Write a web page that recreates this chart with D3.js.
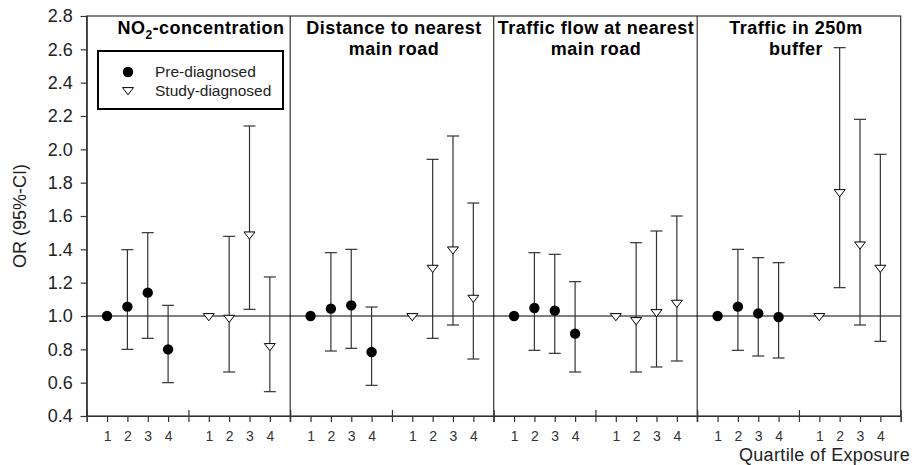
<!DOCTYPE html>
<html>
<head>
<meta charset="utf-8">
<script src="https://cdn.jsdelivr.net/npm/d3@7/dist/d3.min.js"></script>
<style>
  html, body { margin: 0; padding: 0; background: #fff; }
  svg { display: block; font-family: Arial, "Liberation Sans", sans-serif; }
</style>
</head>
<body>
<svg id="chart" width="915" height="465"></svg>
<script>
// ---- Data ----
const panelTitles = [
  ["NO2-concentration"],
  ["Distance to nearest", "main road"],
  ["Traffic flow at nearest", "main road"],
  ["Traffic in 250m", "buffer"]
];
const quartiles = ["1", "2", "3", "4"];
const groups = ["Pre-diagnosed", "Study-diagnosed"];

// Pre-diagnosed: OR, lower CI, upper CI (Q1 = reference)
const preOR = [
  [1.00, 1.056, 1.14, 0.80],
  [1.00, 1.044, 1.064, 0.784],
  [1.00, 1.048, 1.032, 0.894],
  [1.00, 1.056, 1.016, 0.994]
];
const preLo = [
  [null, 0.80, 0.866, 0.60],
  [null, 0.79, 0.806, 0.584],
  [null, 0.794, 0.776, 0.664],
  [null, 0.794, 0.76, 0.748]
];
const preHi = [
  [null, 1.398, 1.50, 1.064],
  [null, 1.38, 1.40, 1.054],
  [null, 1.38, 1.37, 1.206],
  [null, 1.40, 1.35, 1.32]
];
// Study-diagnosed
const studyOR = [
  [1.00, 0.99, 1.49, 0.82],
  [1.00, 1.29, 1.40, 1.11],
  [1.00, 0.976, 1.024, 1.08],
  [1.00, 1.744, 1.43, 1.29]
];
const studyLo = [
  [null, 0.664, 1.04, 0.546],
  [null, 0.866, 0.946, 0.742],
  [null, 0.664, 0.694, 0.73],
  [null, 1.17, 0.946, 0.848]
];
const studyHi = [
  [null, 1.478, 2.14, 1.234],
  [null, 1.94, 2.08, 1.678],
  [null, 1.44, 1.51, 1.60],
  [null, 2.61, 2.18, 1.97]
];
const yTicks = [0.4, 0.6, 0.8, 1.0, 1.2, 1.4, 1.6, 1.8, 2.0, 2.2, 2.4, 2.6, 2.8];

// ---- Layout ----
const svg = d3.select("#chart");
const L = 86.7, R = 900.7, T = 16, B = 416;
const x = d3.scaleLinear().domain([0, 40]).range([L, R]);
const y = d3.scaleLinear().domain([0.4, 2.8]).range([B, T]);
const ink = "#222";

// plot frame
svg.append("rect").attr("x", L).attr("y", T).attr("width", R - L).attr("height", B - T)
  .attr("fill", "none").attr("stroke", "#333").attr("stroke-width", 1.2);

// panel dividers
[10, 20, 30].forEach(v => {
  svg.append("line").attr("x1", x(v)).attr("x2", x(v)).attr("y1", T).attr("y2", B + 6)
    .attr("stroke", "#333").attr("stroke-width", 1.2);
});

// y axis
const yAxis = svg.append("g").attr("transform", `translate(${L},0)`)
  .call(d3.axisLeft(y).tickValues(yTicks).tickFormat(d3.format(".1f")).tickSize(6).tickPadding(8));
yAxis.select(".domain").attr("stroke", "#333").attr("stroke-width", 1.2);
yAxis.selectAll(".tick line").attr("stroke", "#333").attr("stroke-width", 1.2);
yAxis.selectAll("text").attr("font-size", 18).attr("fill", ink)
  .attr("font-family", "Arial, 'Liberation Sans', sans-serif");

// x axis
const xTickVals = d3.range(0, 41);
const xAxis = svg.append("g").attr("transform", `translate(0,${B})`)
  .call(d3.axisBottom(x).tickValues(xTickVals)
    .tickFormat(d => d % 5 === 0 ? "" : quartiles[(d % 5) - 1])
    .tickSize(6).tickPadding(9));
xAxis.select(".domain").attr("stroke", "#333").attr("stroke-width", 1.2);
xAxis.selectAll(".tick line").attr("stroke", "#333").attr("stroke-width", 1.2)
  .attr("y1", d => d % 5 === 0 ? -6 : 0);
xAxis.selectAll("text").attr("font-size", 14).attr("fill", "#333")
  .attr("font-family", "Arial, 'Liberation Sans', sans-serif");

// reference line at OR = 1
svg.append("line").attr("x1", L).attr("x2", R).attr("y1", y(1)).attr("y2", y(1))
  .attr("stroke", "#000").attr("stroke-width", 1.2);

// panel titles
const titleX = [201, 394, 596, 796];
panelTitles.forEach((lines, p) => {
  lines.forEach((ln, i) => {
    const t = svg.append("text").attr("x", titleX[p]).attr("y", 34 + i * 21)
      .attr("text-anchor", "middle").attr("font-size", 18).attr("font-weight", "bold")
      .attr("letter-spacing", 0.5).attr("fill", "#000");
    if (ln.startsWith("NO2")) {
      t.append("tspan").text("NO");
      t.append("tspan").text("2").attr("font-size", 12).attr("dy", 5);
      t.append("tspan").text(ln.slice(3)).attr("dy", -5);
    } else {
      t.text(ln);
    }
  });
});

// markers
const triPath = "M-5.5,-2.4L5.5,-2.4L0,4.8Z";
function drawGroup(ors, los, his, offset, isStudy) {
  ors.forEach((row, p) => {
    row.forEach((v, q) => {
      const cx = x(p * 10 + offset + q);
      const lo = los[p][q], hi = his[p][q];
      if (lo !== null && hi !== null) {
        svg.append("line").attr("x1", cx).attr("x2", cx).attr("y1", y(lo)).attr("y2", y(hi))
          .attr("stroke", "#333").attr("stroke-width", 1.2);
        [lo, hi].forEach(c => {
          svg.append("line").attr("x1", cx - 6).attr("x2", cx + 6).attr("y1", y(c)).attr("y2", y(c))
            .attr("stroke", "#333").attr("stroke-width", 1.2);
        });
      }
      if (isStudy) {
        svg.append("path").attr("d", triPath).attr("transform", `translate(${cx},${y(v)})`)
          .attr("fill", "#fff").attr("stroke", "#000").attr("stroke-width", 1);
      } else {
        svg.append("circle").attr("cx", cx).attr("cy", y(v)).attr("r", 5.2).attr("fill", "#000");
      }
    });
  });
}
drawGroup(preOR, preLo, preHi, 1, false);
drawGroup(studyOR, studyLo, studyHi, 6, true);

// legend
svg.append("rect").attr("x", 98).attr("y", 51).attr("width", 185).attr("height", 58)
  .attr("fill", "#fff").attr("stroke", "#000").attr("stroke-width", 2);
svg.append("circle").attr("cx", 128).attr("cy", 72).attr("r", 5.2).attr("fill", "#000");
svg.append("path").attr("d", triPath).attr("transform", "translate(128,90)")
  .attr("fill", "#fff").attr("stroke", "#000").attr("stroke-width", 1);
groups.forEach((g, i) => {
  svg.append("text").attr("x", 155).attr("y", 72 + i * 18.7).attr("dy", "0.35em")
    .attr("font-size", 15.5).attr("fill", ink).text(g);
});

// axis titles
svg.append("text").attr("transform", "translate(26,216) rotate(-90)")
  .attr("text-anchor", "middle").attr("font-size", 18).attr("fill", ink).text("OR (95%-CI)");
svg.append("text").attr("x", 910).attr("y", 460.5).attr("text-anchor", "end")
  .attr("font-size", 18).attr("letter-spacing", 0.35).attr("fill", ink).text("Quartile of Exposure");
</script>
</body>
</html>
